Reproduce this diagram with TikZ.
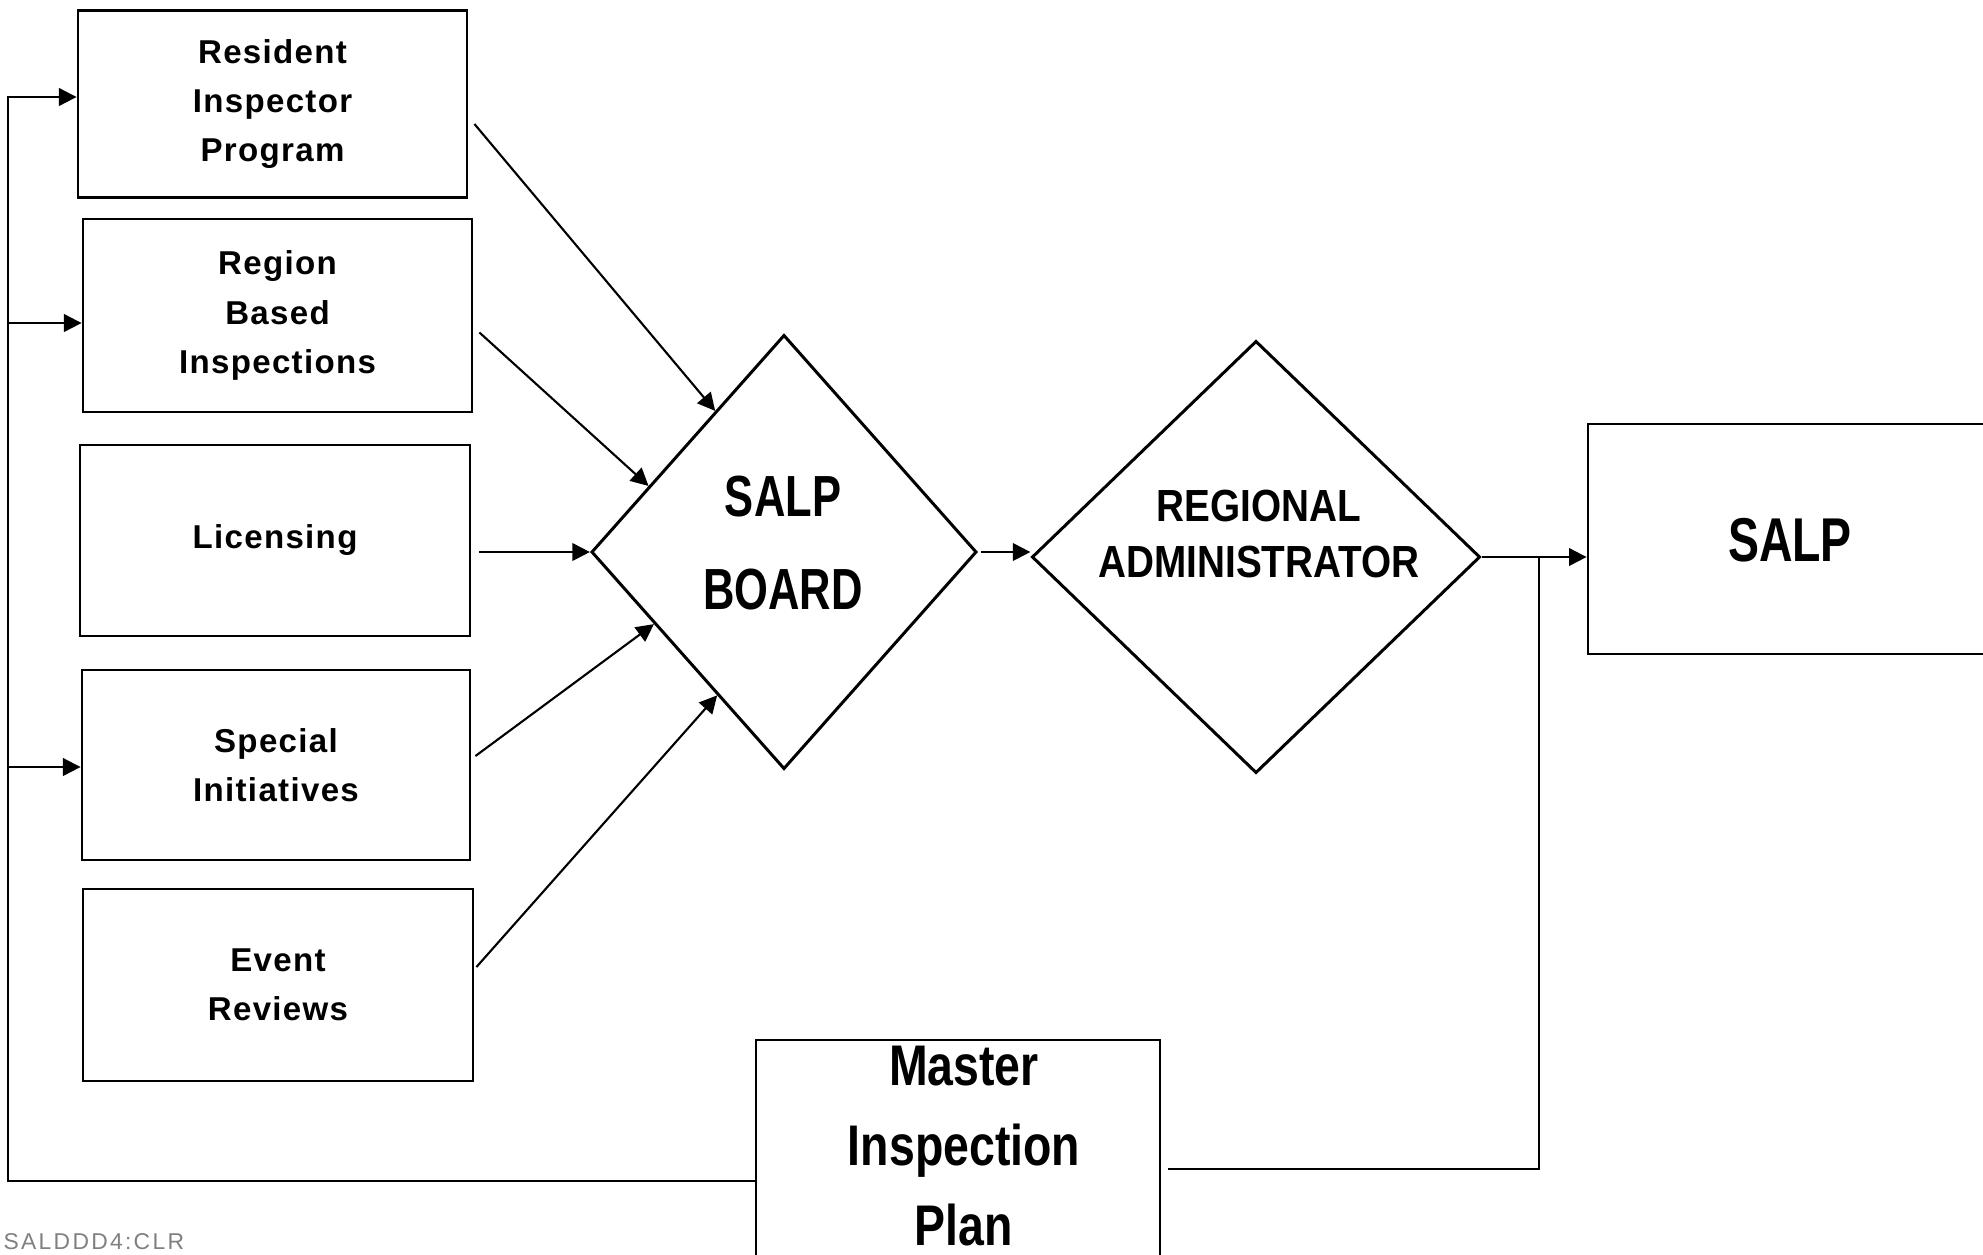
\documentclass[tikz,border=0pt]{standalone}
\usepackage{fontspec}
\setmainfont{Liberation Sans}
\newfontfamily\boxfont[LetterSpace=4]{Liberation Sans}
\newfontfamily\boardfont[FakeStretch=0.75]{Liberation Sans}
\newfontfamily\adminfont[FakeStretch=0.86]{Liberation Sans}
\newfontfamily\planfont[FakeStretch=0.81]{Liberation Sans}
\newfontfamily\tagfont[LetterSpace=10]{Liberation Sans}
\usetikzlibrary{shapes.geometric,arrows.meta,calc}

\begin{document}
\begin{tikzpicture}[x=0.01cm,y=-0.01cm,
  source/.style={draw, line width=0.75pt, inner sep=0pt, align=center,
    font=\boxfont\bfseries\fontsize{9.4}{14}\selectfont},
  decision/.style={draw, diamond, line width=0.85pt, inner sep=0pt},
  frame/.style={draw, line width=0.75pt, inner sep=0pt},
  conn/.style={line width=0.6pt},
  tip/.style={-{Triangle[length=5pt,width=5pt]}}]

\useasboundingbox (0,0) rectangle (1983,1254);

% input activities
\node[source, minimum width=3.89cm, minimum height=1.87cm] (res) at (272.5,104) {Resident\\Inspector\\Program};
\node[source, minimum width=3.89cm, minimum height=1.93cm] (reg) at (277.5,315.5) {Region\\Based\\Inspections};
\node[source, minimum width=3.90cm, minimum height=1.91cm] (lic) at (275,540.5) {Licensing};
\node[source, minimum width=3.88cm, minimum height=1.90cm] (spec) at (276,765) {Special\\Initiatives};
\node[source, minimum width=3.90cm, minimum height=1.92cm] (evt) at (278,985) {Event\\Reviews};

% decision stages
\node[decision, minimum width=3.85cm, minimum height=4.34cm] (board) at (784,552) {};
\node[font=\boardfont\bfseries\fontsize{16.5}{26.2}\selectfont, align=center] (boardtxt) at (783,543) {SALP\\BOARD};

\node[decision, minimum width=4.48cm, minimum height=4.32cm] (regadm) at (1256,557) {};
\node[font=\adminfont\bfseries\fontsize{12.8}{15.9}\selectfont, align=center] (regadmtxt) at (1259,534) {REGIONAL\\ADMINISTRATOR};

% outputs
\node[frame, minimum width=4.12cm, minimum height=2.30cm] (salp) at (1794,539) {};
\node[font=\boardfont\bfseries\fontsize{17.6}{20}\selectfont] (salptxt) at (1790,540) {SALP};

\node[frame, minimum width=4.04cm, minimum height=2.30cm] (mip) at (958,1155) {};
\node[font=\planfont\bfseries\fontsize{16.3}{22.8}\selectfont, align=center] (miptxt) at (964,1146) {Master\\Inspection\\Plan};

% inputs into the board
\draw[conn,tip] ($(res.east)+(6,20)$) -- (board.116);
\draw[conn,tip] ($(reg.east)+(6,17)$) -- (board.154);
\draw[conn,tip] ($(lic.east |- board.west)+(8,0)$) -- (board.west);
\draw[conn,tip] ($(spec.east)+(4,-9)$) -- (board.209);
\draw[conn,tip] ($(evt.east)+(2,-18)$) -- (board.245);

% board to administrator to SALP
\draw[conn,tip] ($(board.east)+(3,0)$) -- (board.east -| regadm.west);
\draw[conn,tip] (regadm.east) -- (regadm.east -| salp.west);

% feedback through the master inspection plan
\coordinate (fbtop) at (1539,557);
\coordinate (fbbot) at (1539,1169);
\draw[conn] (fbtop) -- (fbbot) -- ($(fbbot -| mip.east)+(7,0)$);

\coordinate (lb) at (8,1181);
\coordinate (lt) at (8,97);
\coordinate (l2) at (8,323);
\coordinate (l3) at (8,767);
\draw[conn,tip] (mip.west |- lb) -- (lb) -- (lt) -- (lt -| res.west);
\draw[conn,tip] (l2) -- (l2 -| reg.west);
\draw[conn,tip] (l3) -- (l3 -| spec.west);

% file tag
\node[anchor=base west, inner sep=0pt, text=black!50, font=\tagfont\fontsize{6.5}{8}\selectfont] (tag) at (3,1249) {SALDDD4:CLR};
\end{tikzpicture}
\end{document}
